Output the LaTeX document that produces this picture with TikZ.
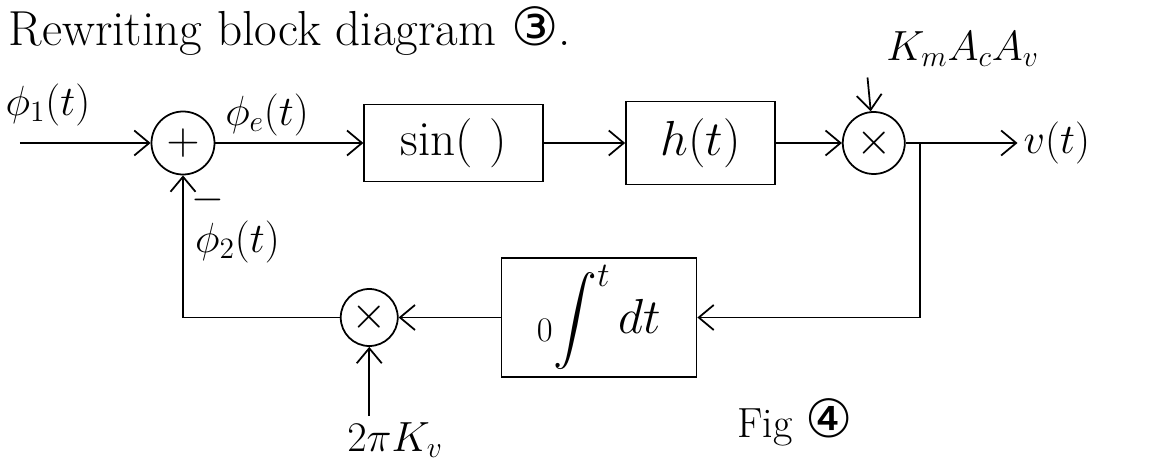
\RequirePackage{fix-cm}
\documentclass[tikz,border=0pt]{standalone}
\usepackage{fontspec}
\usepackage{amsmath}
\newfontfamily\symfont{DejaVu Sans}
\usetikzlibrary{positioning,arrows.meta}

\begin{document}
\begin{tikzpicture}[
  blk/.style={draw, line width=1pt, inner sep=2pt, align=center, font=\fontsize{28}{30}\selectfont},
  junc/.style={draw, circle, line width=1pt, inner sep=0pt, font=\fontsize{26}{28}\selectfont},
  arr/.style={-{Straight Barb[length=3mm,width=5mm]}, line width=1pt},
  lbl/.style={font=\fontsize{24}{26}\selectfont},
]
\useasboundingbox (0,0) rectangle (22.98,-9.36);
% forward path
\node[junc, minimum size=1.26cm] (sum) at (3.66,-2.86) {$+$};
\node[blk, minimum width=3.58cm, minimum height=1.54cm, right=2.96cm of sum] (sin) {sin(\,\,)};
\node[blk, minimum width=2.98cm, minimum height=1.66cm, right=1.62cm of sin] (h) {$h(t)$};
\node[junc, minimum size=1.24cm, right=1.32cm of h] (mult1) {$\times$};
% feedback path
\node[blk, minimum width=3.9cm, minimum height=2.38cm] (int) at (11.98,-6.35) {$\displaystyle {}_0\!\int^{t} dt$};
\node[junc, minimum size=1.14cm, left=2.04cm of int] (mult2) {$\times$};
% signals
\coordinate (in) at (0.4,-2.86);
\coordinate (br) at (18.4,-2.86);
\coordinate (g1) at (17.35,-1.55);
\node[lbl, anchor=west] (vout) at (20.35,-2.86) {$v(t)$};
\node[lbl] (kgain) at (19.25,-0.98) {$K_mA_cA_v$};
\node[lbl] (kv) at (7.9,-8.8) {$2\pi K_v$};
\node[lbl] (phi1) at (0.96,-2.1) {$\phi_1(t)$};
\node[lbl] (phie) at (5.34,-2.3) {$\phi_e(t)$};
\node[lbl] (phi2) at (4.75,-4.84) {$\phi_2(t)$};
\node[lbl] (minus) at (4.15,-4.0) {$-$};
\draw[arr] (in) -- (sum);
\draw[arr] (sum) -- (sin);
\draw[arr] (sin) -- (h);
\draw[arr] (h) -- (mult1);
\draw[arr] (g1) -- (mult1);
\draw[arr] (mult1) -- (vout);
\draw[arr] (br) |- (int);
\draw[arr] (int) -- (mult2);
\draw[arr] (mult2 |- kv.north) -- (mult2);
\draw[arr] (mult2) -| (sum);
% captions
\node[anchor=base west, font=\fontsize{28}{30}\selectfont] (title) at (0.05,-0.92) {Rewriting block diagram {\symfont\fontsize{30}{30}\selectfont ③}.};
\node[lbl] (fig) at (15.9,-8.44) {Fig {\symfont\fontsize{30}{30}\selectfont ④}};
\end{tikzpicture}
\end{document}
